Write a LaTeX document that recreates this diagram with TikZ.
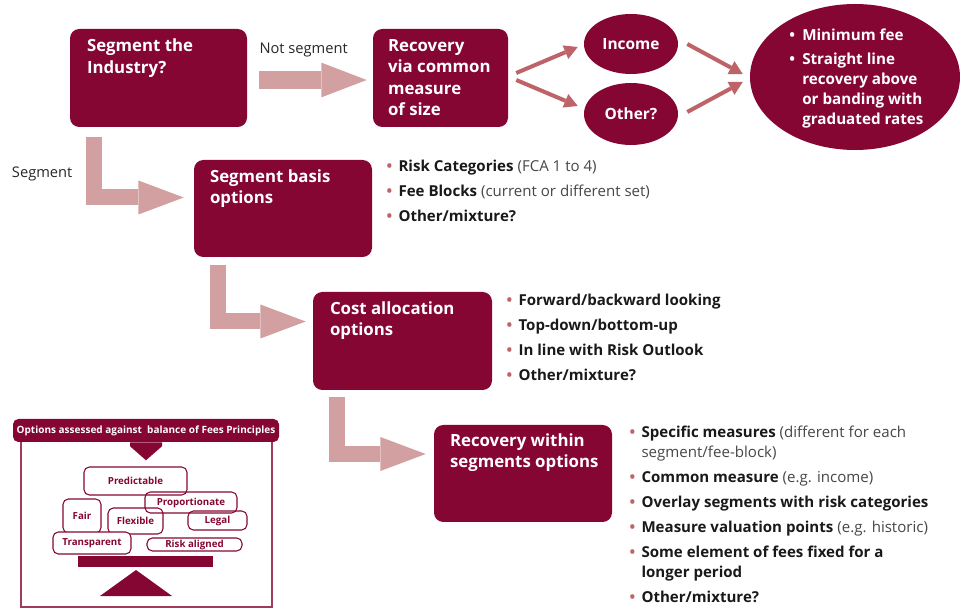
\documentclass[tikz,border=0pt]{standalone}
\usepackage{fontspec}
\setmainfont{Open Sans}
\usetikzlibrary{arrows.meta,shapes.geometric}
\definecolor{maroon}{RGB}{134,6,51}
\definecolor{pinkarr}{RGB}{210,160,160}
\definecolor{thinarr}{RGB}{190,100,104}
\definecolor{bulc}{RGB}{190,100,104}
\definecolor{gtxt}{RGB}{70,70,70}
\definecolor{framec}{RGB}{160,60,90}
\newcommand{\mybul}{\makebox[9pt][l]{\textcolor{bulc}{\textbullet}}}
\newcommand{\wbul}{\makebox[9.75pt][l]{\textbullet}}
\newcommand{\pp}[1]{\textcolor{gtxt}{\mdseries #1}}
\begin{document}
\begin{tikzpicture}[x=0.75pt,y=-0.75pt,
  box/.style={fill=maroon, rounded corners=7pt, inner sep=0},
  ttl/.style={text=white, font=\fontsize{12.6}{16}\selectfont\bfseries, align=left, inner sep=0, anchor=north west},
  lst/.style={text=black!90, font=\fontsize{11.3}{15}\selectfont\bfseries, align=left, inner sep=0, anchor=north west},
  lbl/.style={text=black!85, font=\fontsize{11}{14}\selectfont, inner sep=0, anchor=west},
  ell/.style={ellipse, fill=maroon, inner sep=0, text=white, font=\fontsize{11.6}{14}\selectfont\bfseries},
  blk/.style={draw=pinkarr, line width=13pt, -{Triangle[length=34pt, width=26pt, line width=0pt]}},
  lblk/.style={draw=pinkarr, line width=12pt, line join=miter, -{Triangle[length=34pt, width=25.5pt, line width=0pt]}},
  thin/.style={draw=thinarr, line width=3pt, -{Triangle[length=10pt, width=11pt, line width=0pt]}},
  pbox/.style={draw=maroon, line width=0.8pt, rounded corners=4pt, text=maroon, inner sep=0,
    font=\fontsize{7.3}{8}\selectfont\bfseries},
]
\useasboundingbox (0,0) rectangle (961,609);

% main boxes
\node[box, minimum width=177*0.75pt, minimum height=98*0.75pt] (b1) at (158.5,78) {};
\node[box, minimum width=135*0.75pt, minimum height=98*0.75pt] (b2) at (440.5,78) {};
\node[box, minimum width=178*0.75pt, minimum height=97*0.75pt] (b3) at (283,208.5) {};
\node[box, minimum width=179*0.75pt, minimum height=98*0.75pt] (b4) at (402.5,341) {};
\node[box, minimum width=178*0.75pt, minimum height=97*0.75pt] (b5) at (523,473.5) {};

\node[ttl] (t1) at ([shift={(17,10)}]b1.north west) {Segment the\\Industry?};
\node[ttl] (t2) at ([shift={(15,10.5)}]b2.north west) {Recovery\\via common\\measure\\of size};
\node[ttl] (t3) at ([shift={(16,9.5)}]b3.north west) {Segment basis\\options};
\node[ttl] (t4) at ([shift={(17,9.5)}]b4.north west) {Cost allocation\\options};
\node[ttl] (t5) at ([shift={(16,8.5)}]b5.north west) {Recovery within\\segments options};

% ellipses
\node[ell, minimum width=94*0.75pt, minimum height=60*0.75pt] (inc) at (631,44) {Income};
\node[ell, minimum width=94*0.75pt, minimum height=62*0.75pt] (oth) at (631,114) {Other?};
\node[ellipse, fill=maroon, inner sep=0, minimum width=210*0.75pt, minimum height=146*0.75pt] (big) at (855,77) {};
\node[anchor=north west, text=white, font=\fontsize{11.4}{15}\selectfont\bfseries, align=left, inner sep=0] (bt)
  at ([shift={(-66,-48.5)}]big.center)
  {\wbul Minimum fee\\[3pt]\wbul Straight line\\\hspace*{9.75pt}recovery above\\\hspace*{9.75pt}or banding with\\\hspace*{9.75pt}graduated rates};

% labels
\node[lbl] (ns) at ([shift={(12,-28)}]b1.east) {Not segment};
\node[lbl] (sg) at ([shift={(-58,47)}]b1.south west) {Segment};

% block arrows
\draw[blk] ([shift={(12,2)}]b1.east) -- ([shift={(-6,2)}]b2.west);
\draw[lblk] ([shift={(-64.5,10)}]b1.south) |- ([shift={(-10,-11)}]b3.west);
\draw[lblk] ([shift={(-65,8)}]b3.south) |- ([shift={(-7,-19.5)}]b4.west);
\draw[lblk] ([shift={(-65.5,7)}]b4.south) |- ([shift={(-8,-19.5)}]b5.west);

% thin arrows
\draw[thin] ([shift={(8,-5)}]b2.east) -- ([shift={(-6,3)}]inc.west);
\draw[thin] ([shift={(8,2)}]b2.east) -- ([shift={(-6,-8)}]oth.west);
\draw[thin] ([shift={(9,0)}]inc.east) -- ([shift={(-7,-3)}]big.west);
\draw[thin] ([shift={(9,-2)}]oth.east) -- ([shift={(-7,5)}]big.west);

% bullet lists
\node[lst] (l3) at ([shift={(14,0.5)}]b3.north east)
  {\mybul Risk Categories \pp{(FCA 1 to 4)}\\[3.75pt]
   \mybul Fee Blocks \pp{(current or different set)}\\[3.75pt]
   \mybul Other/mixture?};
\node[lst] (l4) at ([shift={(14,2)}]b4.north east)
  {\mybul Forward/backward looking\\[3.75pt]
   \mybul Top-down/bottom-up\\[3.75pt]
   \mybul In line with Risk Outlook\\[3.75pt]
   \mybul Other/mixture?};
\node[lst] (l5) at ([shift={(17,1)}]b5.north east)
  {\mybul Specific measures \pp{(different for each}\\
   \hspace*{9pt}\pp{segment/fee-block)}\\[3.75pt]
   \mybul Common measure \pp{(e.g. income)}\\[3.75pt]
   \mybul Overlay segments with risk categories\\[3.75pt]
   \mybul Measure valuation points \pp{(e.g. historic)}\\[3.75pt]
   \mybul Some element of fees fixed for a\\
   \hspace*{9pt}longer period\\[3.75pt]
   \mybul Other/mixture?};

% bottom-left panel
\draw[framec, line width=1.1pt] (21,432) -- (21,607) -- (272,607) -- (272,432);
\node[fill=maroon, rounded corners=4pt, inner sep=0, minimum width=266*0.75pt, minimum height=23*0.75pt,
  text=white, font=\fontsize{7.5}{9}\selectfont\bfseries] (hdr) at (146,430.5)
  {Options assessed against~ balance of Fees Principles};
\fill[maroon] ([shift={(-16,0)}]hdr.south) -- ([shift={(16,0)}]hdr.south) -- ([shift={(16,4)}]hdr.south)
  -- ([shift={(0,18)}]hdr.south) -- ([shift={(-16,4)}]hdr.south) -- cycle;

\node[pbox, minimum width=103*0.75pt, minimum height=28*0.75pt] (pred) at (135.5,481) {Predictable};
\node[pbox, minimum width=92*0.75pt, minimum height=21*0.75pt] (prop) at (191,502.5) {Proportionate};
\node[pbox, minimum width=38*0.75pt, minimum height=34*0.75pt] (fair) at (82,516) {Fair};
\node[pbox, minimum width=55*0.75pt, minimum height=26*0.75pt] (flex) at (135.5,521) {Flexible};
\node[pbox, minimum width=59*0.75pt, minimum height=19*0.75pt] (legal) at (217.5,520.5) {Legal};
\node[pbox, fill=white, minimum width=78*0.75pt, minimum height=22*0.75pt] (trans) at (92,543) {Transparent};
\node[pbox, minimum width=95*0.75pt, minimum height=13*0.75pt] (risk) at (194.5,544.5) {Risk aligned};

\fill[maroon] (78,556) rectangle (213,567);
\fill[maroon] (100,596) -- (172,596) -- (136,570) -- cycle;
\end{tikzpicture}
\end{document}
